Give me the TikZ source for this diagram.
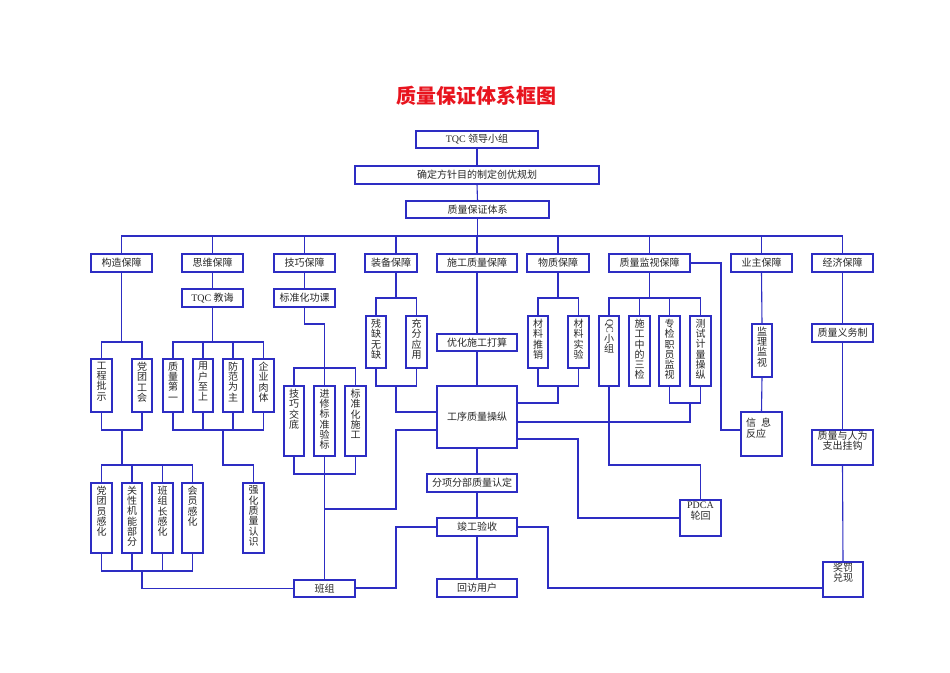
\documentclass[tikz,border=0pt]{standalone}
\usepackage{fontspec}
\usepackage{graphicx}
\setmainfont{Noto Sans CJK SC}
\newfontfamily\lat{Liberation Serif}
\definecolor{lc}{RGB}{45,45,195}
\definecolor{tc}{RGB}{40,40,40}
\definecolor{tr}{RGB}{232,20,30}
\tikzset{
  hnode/.style={draw=lc, line width=1.1pt, inner sep=0pt, outer sep=0pt, text=tc,
    font=\fontsize{10}{10.5}\selectfont},
  vnode/.style={draw=lc, line width=1.1pt, inner sep=0pt, outer sep=0pt, text=tc,
    font=\fontsize{10}{10.3}\selectfont},
}
% horizontal box: name, x1, y1, x2, y2, text
\newcommand\hbx[6]{\node[hnode, minimum width={#4-#2}, minimum height={#5-#3}] (#1) at ({(#2+#4)/2},{(#3+#5)/2}) {#6};}
% vertical-text box
\newcommand\vbx[6]{\node[vnode, minimum width={#4-#2}, minimum height={#5-#3}] (#1) at ({(#2+#4)/2},{(#3+#5)/2}) {\parbox[c][\dimexpr#5pt-#3pt-2pt\relax][t]{12pt}{\centering\vspace*{2pt}#6}};}
% top-aligned multi-line box: name, x1,y1,x2,y2, top gap, text
\newcommand\tbx[7]{\node[hnode, minimum width={#4-#2}, minimum height={#5-#3}] (#1) at ({(#2+#4)/2},{(#3+#5)/2}) {\parbox[c][\dimexpr#5pt-#3pt-2pt\relax][t]{\dimexpr#4pt-#2pt-4pt\relax}{\centering\vspace*{#6}#7}};}
\begin{document}
\begin{tikzpicture}[x=1pt,y=-1pt,line width=1.1pt,color=lc]
\fill[white] (0,0) rectangle (950,672);
\useasboundingbox (0,0) rectangle (950,672);

\node[text=tr, font=\fontsize{20}{22}\selectfont\bfseries] (title) at (476,96) {质量保证体系框图};

% top chain
\hbx{tqc}{416}{131}{538}{148}{{\lat TQC} 领导小组}
\hbx{qd}{355}{166}{599}{184}{确定方针目的制定创优规划}
\hbx{zb}{406}{201}{549}{218}{质量保证体系}

% second level
\hbx{gz}{91}{254}{152}{272}{构造保障}
\hbx{sw}{182}{254}{243}{272}{思维保障}
\hbx{jq}{274}{254}{335}{272}{技巧保障}
\hbx{zbb}{365}{254}{417}{272}{装备保障}
\hbx{sg}{437}{254}{517}{272}{施工质量保障}
\hbx{wz}{527}{254}{589}{272}{物质保障}
\hbx{js}{609}{254}{690}{272}{质量监视保障}
\hbx{yz}{731}{254}{792}{272}{业主保障}
\hbx{jj}{812}{254}{873}{272}{经济保障}

% other horizontal boxes
\hbx{tqcj}{182}{289}{243}{307}{{\lat TQC} 教诲}
\hbx{bzhg}{274}{289}{335}{307}{标准化功课}
\hbx{yhsg}{437}{334}{517}{351}{优化施工打算}
\hbx{gx}{437}{386}{517}{448}{工序质量操纵}
\hbx{fx}{427}{474}{517}{492}{分项分部质量认定}
\hbx{jg}{437}{518}{517}{536}{竣工验收}
\hbx{hf}{437}{579}{517}{597}{回访用户}
\hbx{bz}{294}{580}{355}{597}{班组}
\hbx{yw}{812}{324}{873}{342}{质量义务制}
\tbx{pdca}{680}{500}{721}{536}{1pt}{{\lat PDCA}\\轮回}
\tbx{xx}{741}{412}{782}{456}{5pt}{\raggedright\hspace*{3pt}信\hspace{5pt}息\\\hspace*{3pt}反应}
\tbx{zly}{812}{430}{873}{465}{0pt}{质量与人为\\支出挂钩}
\tbx{jf}{823}{562}{863}{597}{0pt}{奖罚\\兑现}

% vertical text boxes
\vbx{gcps}{91}{359}{112}{412}{工\\程\\批\\示}
\vbx{dtgh}{132}{359}{152}{412}{党\\团\\工\\会}
\vbx{zldy}{163}{359}{183}{412}{质\\量\\第\\一}
\vbx{yhzs}{193}{359}{213}{412}{用\\户\\至\\上}
\vbx{ffwz}{223}{359}{243}{412}{防\\范\\为\\主}
\vbx{qyrt}{253}{359}{274}{412}{企\\业\\肉\\体}
\vbx{jqjd}{284}{386}{304}{456}{技\\巧\\交\\底}
\vbx{jxbz}{314}{386}{335}{456}{进\\修\\标\\准\\验\\标}
\vbx{bzsg}{345}{386}{366}{456}{标\\准\\化\\施\\工}
\vbx{cqwq}{366}{316}{386}{368}{残\\缺\\无\\缺}
\vbx{cfyy}{406}{316}{427}{368}{充\\分\\应\\用}
\vbx{clts}{528}{316}{548}{368}{材\\料\\推\\销}
\vbx{clsy}{568}{316}{589}{368}{材\\料\\实\\验}
\vbx{qcxz}{599}{316}{619}{386}{\rotatebox[origin=c]{-90}{\lat QC}\\小\\组}
\vbx{sgzd}{629}{316}{650}{386}{施\\工\\中\\的\\三\\检}
\vbx{zjzy}{659}{316}{680}{386}{专\\检\\职\\员\\监\\视}
\vbx{csjl}{690}{316}{711}{386}{测\\试\\计\\量\\操\\纵}
\vbx{jljs}{752}{324}{772}{377}{监\\理\\监\\视}
\vbx{dtyg}{91}{483}{112}{553}{党\\团\\员\\感\\化}
\vbx{gxjn}{122}{483}{142}{553}{关\\性\\机\\能\\部\\分}
\vbx{bzzg}{152}{483}{173}{553}{班\\组\\长\\感\\化}
\vbx{hygh}{182}{483}{203}{553}{会\\员\\感\\化}
\vbx{qhzl}{243}{483}{264}{553}{强\\化\\质\\量\\认\\识}

% ---- connectors ----
\draw (tqc.south) -- (qd.north);
\draw (qd.south) -- (zb.north);
\draw (zb.south) -- (zb.south |- 0,236);
\draw (gz.north) -- ++(0,-18) -| (jj.north);
\foreach \n in {sw,jq,sg,wz,js,yz} \draw (\n.north) -- ++(0,-18);
\draw ([xshift=5pt]zbb.north) -- ++(0,-18);

% 构造保障
\draw (gz.south) -- (gz.south |- 0,342);
\draw (gcps.north) -- ++(0,-17) -| (dtgh.north);
\draw (gcps.south) -- ++(0,18) -| (dtgh.south);
\draw (122,430) -- (122,465);
\draw (dtyg.north) -- ++(0,-18) -| (hygh.north);
\draw (gxjn.north) -- ++(0,-18);
\draw (bzzg.north) -- ++(0,-18);
\draw (dtyg.south) -- ++(0,18) -| (hygh.south);
\draw (gxjn.south) -- ++(0,18);
\draw (bzzg.south) -- ++(0,18);
\draw (142,571) |- (bz.west);

% 思维保障
\draw (sw.south) -- (tqcj.north);
\draw (tqcj.south) -- (tqcj.south |- 0,342);
\draw (zldy.north) -- ++(0,-17) -| (qyrt.north);
\draw (yhzs.north) -- ++(0,-17);
\draw (ffwz.north) -- ++(0,-17);
\draw (zldy.south) -- ++(0,18) -| (qyrt.south);
\draw (yhzs.south) -- ++(0,18);
\draw (ffwz.south) -- ++(0,18);
\draw (223,430) -- (223,465) -| (qhzl.north);

% 技巧保障
\draw (jq.south) -- (bzhg.north);
\draw (bzhg.south) -- ++(0,17) -| (jxbz.north |- 0,368);
\draw (jqjd.north) -- ++(0,-18) -| (bzsg.north);
\draw (jxbz.north) -- ++(0,-18);
\draw (jqjd.south) -- ++(0,18) -| (bzsg.south);
\draw (jxbz.south) -- (bz.north);
\draw (jxbz.south |- 0,509) -| (396,430) -- (gx.west |- 0,430);

% 装备保障
\draw ([xshift=5pt]zbb.south) -- (396,298);
\draw (cqwq.north) -- ++(0,-18) -| (cfyy.north);
\draw (cqwq.south) -- ++(0,18) -| (cfyy.south);
\draw (396,386) |- (gx.west |- 0,412);

% 施工质量保障
\draw (sg.south) -- (yhsg.north);
\draw (yhsg.south) -- (gx.north);
\draw (gx.south) -- (gx.south |- fx.north);
\draw (gx.south |- fx.south) -- (jg.north);
\draw (jg.south) -- (hf.north);
\draw (jg.west) -| (396,588) -- (bz.east |- 0,588);
\draw (jg.east) -| (548,588) -- (jf.west |- 0,588);

% 物质保障
\draw (wz.south) -- (wz.south |- 0,298);
\draw (clts.north) -- ++(0,-18) -| (clsy.north);
\draw (clts.south) -- ++(0,18) -| (clsy.south);
\draw (558,386) |- (gx.east |- 0,403);

% 质量监视保障
\draw (js.south) -- (js.south |- 0,298);
\draw (qcxz.north) -- ++(0,-18) -| (csjl.north);
\draw (sgzd.north) -- ++(0,-18);
\draw (zjzy.north) -- ++(0,-18);
\draw (zjzy.south) -- ++(0,17) -| (csjl.south);
\draw (690,403) |- (gx.east |- 0,422);
\draw (qcxz.south) -- (qcxz.south |- 0,465) -| (pdca.north);
\draw (gx.east |- 0,439) -| (578,518) -- (pdca.west);
\draw (js.east) -| (721,430) -- (xx.west |- 0,430);

% 业主保障
\draw (yz.south) -- (jljs.north);
\draw (jljs.south) -- (xx.north);

% 经济保障
\draw (jj.south) -- (yw.north);
\draw (yw.south) -- (zly.north);
\draw (zly.south) -- (jf.north);
\end{tikzpicture}
\end{document}
